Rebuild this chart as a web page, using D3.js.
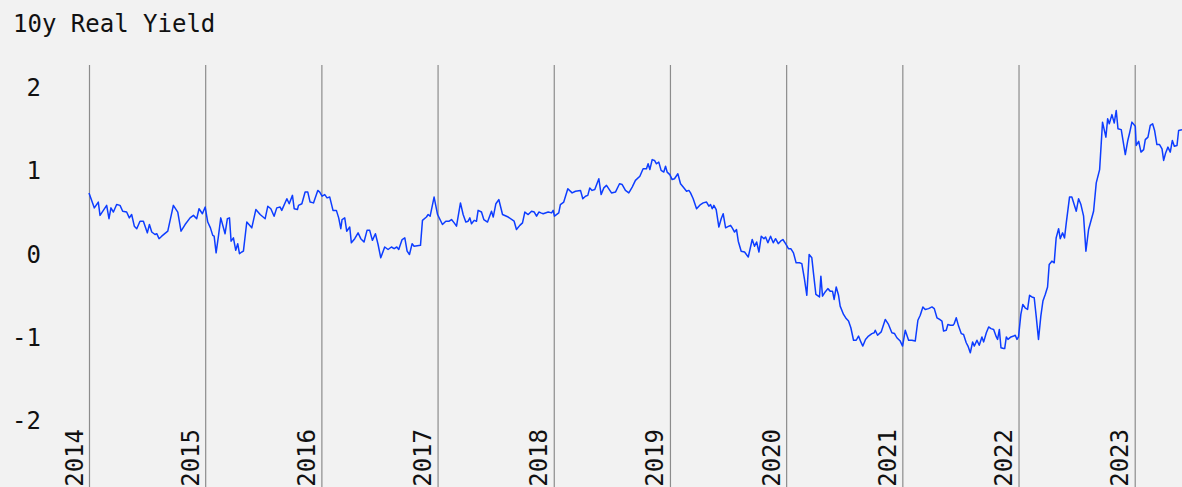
<!DOCTYPE html>
<html>
<head>
<meta charset="utf-8">
<script src="https://cdn.jsdelivr.net/npm/d3@7"></script>
<style>
  html, body { margin: 0; padding: 0; background: #f2f2f2; }
  svg { display: block; }
</style>
</head>
<body>
<div id="chart"></div>
<script>
const title = '10y Real Yield';
const yTicks = [-2, -1, 0, 1, 2];
const xTicks = [2014, 2015, 2016, 2017, 2018, 2019, 2020, 2021, 2022, 2023];

// decimal year of each observation
const years = [
  2014.000, 2014.046, 2014.080, 2014.095, 2014.152, 2014.172, 2014.189, 2014.210, 2014.238, 2014.267,
  2014.290, 2014.324, 2014.347, 2014.367, 2014.390, 2014.411, 2014.439, 2014.468, 2014.502, 2014.520,
  2014.540, 2014.568, 2014.583, 2014.603, 2014.626, 2014.678, 2014.726, 2014.764, 2014.792, 2014.827,
  2014.870, 2014.899, 2014.927, 2014.947, 2014.976,
  2015.000, 2015.022, 2015.045, 2015.065, 2015.077, 2015.094, 2015.114, 2015.134, 2015.171, 2015.191,
  2015.209, 2015.223, 2015.243, 2015.263, 2015.280, 2015.295, 2015.315, 2015.329, 2015.358, 2015.401,
  2015.436, 2015.473, 2015.516, 2015.539, 2015.565, 2015.593, 2015.616, 2015.645, 2015.659, 2015.703,
  2015.723, 2015.751, 2015.766, 2015.794, 2015.803, 2015.832, 2015.860, 2015.883, 2015.903, 2015.932,
  2015.969, 2015.986,
  2016.006, 2016.029, 2016.049, 2016.072, 2016.100, 2016.129, 2016.149, 2016.167, 2016.178, 2016.201,
  2016.218, 2016.244, 2016.258, 2016.287, 2016.316, 2016.339, 2016.367, 2016.393, 2016.416, 2016.439,
  2016.465, 2016.488, 2016.511, 2016.545, 2016.574, 2016.603, 2016.626, 2016.649, 2016.666, 2016.675,
  2016.695, 2016.718, 2016.738, 2016.758, 2016.781, 2016.798, 2016.853, 2016.870, 2016.904, 2016.919,
  2016.936, 2016.970,
  2017.000, 2017.042, 2017.071, 2017.100, 2017.120, 2017.143, 2017.163, 2017.197, 2017.220, 2017.243,
  2017.263, 2017.278, 2017.292, 2017.315, 2017.335, 2017.349, 2017.378, 2017.398, 2017.430, 2017.464,
  2017.479, 2017.502, 2017.527, 2017.559, 2017.608, 2017.659, 2017.679, 2017.708, 2017.731, 2017.751,
  2017.780, 2017.809, 2017.832, 2017.852, 2017.872, 2017.889, 2017.909, 2017.952, 2017.981, 2017.995,
  2018.006, 2018.043, 2018.057, 2018.086, 2018.121, 2018.158, 2018.187, 2018.230, 2018.250, 2018.273,
  2018.293, 2018.310, 2018.330, 2018.353, 2018.388, 2018.408, 2018.431, 2018.454, 2018.497, 2018.531,
  2018.566, 2018.589, 2018.617, 2018.646, 2018.675, 2018.703, 2018.741, 2018.769, 2018.798, 2018.812,
  2018.827, 2018.847, 2018.867, 2018.884, 2018.904, 2018.924, 2018.947, 2018.962, 2018.976, 2018.999,
  2019.019, 2019.039, 2019.068, 2019.091, 2019.114, 2019.143, 2019.163, 2019.177, 2019.200, 2019.229,
  2019.263, 2019.286, 2019.315, 2019.335, 2019.349, 2019.364, 2019.378, 2019.398, 2019.421, 2019.441,
  2019.458, 2019.479, 2019.507, 2019.522, 2019.536, 2019.556, 2019.573, 2019.588, 2019.613, 2019.642,
  2019.674, 2019.708, 2019.728, 2019.746, 2019.766, 2019.786, 2019.809, 2019.823, 2019.843, 2019.866,
  2019.889, 2019.909, 2019.932, 2019.952, 2019.972, 2019.995,
  2020.020, 2020.040, 2020.063, 2020.086, 2020.115, 2020.135, 2020.158, 2020.178, 2020.198, 2020.221,
  2020.235, 2020.256, 2020.287, 2020.299, 2020.313, 2020.336, 2020.359, 2020.379, 2020.399, 2020.413,
  2020.431, 2020.451, 2020.465, 2020.494, 2020.517, 2020.537, 2020.557, 2020.580, 2020.603, 2020.623,
  2020.643, 2020.660, 2020.683, 2020.709, 2020.738, 2020.758, 2020.767, 2020.787, 2020.818, 2020.853,
  2020.881, 2020.910, 2020.933, 2020.953, 2020.982,
  2021.002, 2021.025, 2021.054, 2021.082, 2021.111, 2021.134, 2021.154, 2021.177, 2021.197, 2021.226,
  2021.255, 2021.275, 2021.298, 2021.321, 2021.341, 2021.355, 2021.378, 2021.392, 2021.413, 2021.436,
  2021.447, 2021.464, 2021.484, 2021.507, 2021.527, 2021.550, 2021.565, 2021.585, 2021.605, 2021.619,
  2021.642, 2021.662, 2021.685, 2021.700, 2021.723, 2021.743, 2021.763, 2021.786, 2021.809, 2021.820,
  2021.835, 2021.849, 2021.872, 2021.881, 2021.895, 2021.909, 2021.935, 2021.958, 2021.972, 2021.987,
  2022.000, 2022.020, 2022.037, 2022.057, 2022.078, 2022.095, 2022.115, 2022.135, 2022.152, 2022.172,
  2022.192, 2022.210, 2022.230, 2022.250, 2022.264, 2022.287, 2022.307, 2022.324, 2022.345, 2022.359,
  2022.379, 2022.396, 2022.411, 2022.439, 2022.459, 2022.497, 2022.517, 2022.537, 2022.560, 2022.580,
  2022.603, 2022.646, 2022.669, 2022.698, 2022.723, 2022.752, 2022.767, 2022.781, 2022.804, 2022.824,
  2022.841, 2022.856, 2022.884, 2022.919, 2022.939, 2022.956, 2022.976,
  2023.005, 2023.013, 2023.034, 2023.054, 2023.077, 2023.091, 2023.114, 2023.134, 2023.154, 2023.171,
  2023.191, 2023.214, 2023.235, 2023.249, 2023.266, 2023.286, 2023.306, 2023.324, 2023.341, 2023.364,
  2023.378, 2023.407
];

// 10y real yield, %
const realYield = [
  0.74, 0.56, 0.63, 0.47, 0.59, 0.43, 0.56, 0.51, 0.60, 0.59,
  0.52, 0.51, 0.44, 0.48, 0.34, 0.31, 0.40, 0.40, 0.26, 0.36,
  0.27, 0.24, 0.25, 0.19, 0.22, 0.28, 0.59, 0.51, 0.28, 0.36,
  0.44, 0.47, 0.43, 0.55, 0.49,
  0.57, 0.39, 0.32, 0.23, 0.22, 0.02, 0.22, 0.44, 0.25, 0.43,
  0.44, 0.16, 0.20, 0.05, 0.13, 0.01, 0.03, 0.04, 0.39, 0.32,
  0.54, 0.48, 0.43, 0.58, 0.55, 0.46, 0.56, 0.57, 0.53, 0.67,
  0.61, 0.71, 0.55, 0.54, 0.59, 0.61, 0.75, 0.75, 0.63, 0.62,
  0.77, 0.75,
  0.70, 0.72, 0.68, 0.69, 0.53, 0.53, 0.44, 0.31, 0.42, 0.44,
  0.28, 0.33, 0.14, 0.19, 0.26, 0.19, 0.15, 0.29, 0.29, 0.17,
  0.25, 0.12, -0.04, 0.09, 0.06, 0.09, 0.07, 0.09, 0.06, 0.10,
  0.18, 0.20, 0.04, 0.00, 0.13, 0.10, 0.11, 0.41, 0.45, 0.48,
  0.46, 0.69,
  0.48, 0.36, 0.40, 0.40, 0.42, 0.38, 0.34, 0.62, 0.48, 0.39,
  0.40, 0.44, 0.37, 0.41, 0.40, 0.53, 0.51, 0.42, 0.39, 0.52,
  0.45, 0.61, 0.66, 0.48, 0.45, 0.40, 0.30, 0.35, 0.38, 0.51,
  0.48, 0.52, 0.51, 0.46, 0.51, 0.50, 0.49, 0.51, 0.50, 0.53,
  0.46, 0.50, 0.60, 0.63, 0.79, 0.74, 0.76, 0.77, 0.67, 0.70,
  0.71, 0.80, 0.77, 0.78, 0.91, 0.72, 0.80, 0.83, 0.74, 0.75,
  0.85, 0.84, 0.77, 0.74, 0.81, 0.89, 0.94, 1.03, 1.03, 1.09,
  1.02, 1.14, 1.13, 1.09, 1.11, 1.01, 0.99, 1.06, 0.99, 0.96,
  0.90, 0.91, 0.97, 0.85, 0.81, 0.76, 0.77, 0.74, 0.67, 0.55,
  0.60, 0.62, 0.63, 0.58, 0.60, 0.55, 0.59, 0.54, 0.33, 0.43,
  0.49, 0.32, 0.34, 0.35, 0.32, 0.27, 0.30, 0.16, 0.04, 0.03,
  -0.03, 0.18, 0.10, 0.15, 0.03, 0.22, 0.19, 0.21, 0.14, 0.22,
  0.14, 0.19, 0.13, 0.16, 0.18, 0.13,
  0.07, 0.07, 0.02, -0.10, -0.10, -0.11, -0.30, -0.49, 0.00, -0.04,
  -0.22, -0.48, -0.51, -0.26, -0.50, -0.45, -0.41, -0.44, -0.44, -0.54,
  -0.39, -0.49, -0.62, -0.72, -0.77, -0.80, -0.88, -1.03, -1.03, -0.98,
  -1.05, -1.10, -1.02, -0.98, -0.95, -0.94, -0.91, -0.97, -0.93, -0.78,
  -0.84, -0.94, -0.95, -1.00, -1.04,
  -1.10, -0.91, -1.03, -1.03, -1.04, -0.79, -0.73, -0.63, -0.66, -0.65,
  -0.63, -0.65, -0.76, -0.78, -0.80, -0.92, -0.91, -0.84, -0.85, -0.85,
  -0.83, -0.76, -0.86, -0.95, -0.96, -1.06, -1.10, -1.18, -1.05, -1.10,
  -1.03, -1.09, -0.99, -1.05, -0.94, -0.87, -0.89, -0.90, -0.99, -1.02,
  -0.90, -1.12, -1.13, -1.13, -0.99, -1.02, -0.99, -0.98, -0.97, -1.02,
  -0.99, -0.72, -0.60, -0.64, -0.66, -0.49, -0.51, -0.52, -0.74, -1.02,
  -0.74, -0.56, -0.48, -0.39, -0.12, -0.08, -0.10, 0.20, 0.31, 0.19,
  0.26, 0.20, 0.38, 0.69, 0.69, 0.52, 0.67, 0.60, 0.46, 0.04,
  0.30, 0.52, 0.86, 1.02, 1.59, 1.41, 1.63, 1.57, 1.68, 1.58,
  1.73, 1.51, 1.50, 1.20, 1.36, 1.46, 1.59,
  1.54, 1.31, 1.36, 1.23, 1.26, 1.38, 1.41, 1.55, 1.57, 1.49,
  1.32, 1.32, 1.27, 1.13, 1.22, 1.29, 1.23, 1.37, 1.30, 1.31,
  1.49, 1.50
];

const width = 1182;
const height = 487;
const font = '"DejaVu Sans Mono", monospace';

const svg = d3.select('#chart')
  .append('svg')
  .attr('width', width)
  .attr('height', height)
  .style('background', '#f2f2f2');

const x = d3.scaleLinear().domain(d3.extent(years)).range([89, 1182]);
const y = d3.scaleLinear().domain([-2, 2]).range([421, 88]);

// year grid + rotated labels
const xAxis = svg.append('g')
  .attr('transform', `translate(0,${height})`)
  .call(d3.axisBottom(x).tickValues(xTicks).tickSize(-(height - 65)).tickFormat(d3.format('d')));
xAxis.select('.domain').remove();
xAxis.selectAll('.tick line').attr('stroke', '#8c8c8c').attr('stroke-width', 1.2);
xAxis.selectAll('.tick text')
  .attr('x', 0).attr('y', 0).attr('dy', 0)
  .attr('transform', `translate(-7,${429 - height}) rotate(-90)`)
  .attr('text-anchor', 'end')
  .attr('fill', '#111')
  .style('font-family', font)
  .style('font-size', '24px');

// value labels
const yAxis = svg.append('g')
  .attr('transform', 'translate(41,0)')
  .call(d3.axisLeft(y).tickValues(yTicks).tickSize(0).tickPadding(0).tickFormat(d => String(d)));
yAxis.select('.domain').remove();
yAxis.selectAll('.tick text')
  .attr('fill', '#111')
  .style('font-family', font)
  .style('font-size', '24px');

const line = d3.line()
  .x((d, i) => x(years[i]))
  .y(d => y(d));

svg.append('path')
  .datum(realYield)
  .attr('fill', 'none')
  .attr('stroke', '#0d3dff')
  .attr('stroke-width', 1.5)
  .attr('stroke-linejoin', 'round')
  .attr('d', line);

svg.append('text')
  .attr('x', 13)
  .attr('y', 32)
  .attr('fill', '#111')
  .style('font-family', font)
  .style('font-size', '24px')
  .text(title);
</script>
</body>
</html>
